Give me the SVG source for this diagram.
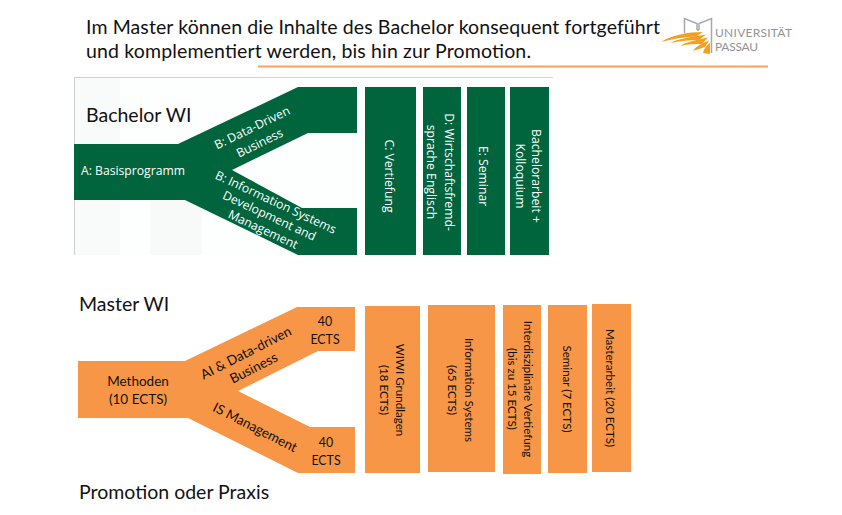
<svg xmlns="http://www.w3.org/2000/svg" width="842" height="515" viewBox="0 0 842 515">
<style>
text{font-family:Lato,"Liberation Sans",sans-serif}
.h{font-size:19.5px;fill:#111}
.g{fill:#00643C}
.o{fill:#F79646}
.tg{fill:#fff;font-family:"Open Sans","Liberation Sans",sans-serif;font-size:12.2px;text-anchor:middle}
.to{fill:#111;font-size:13.5px;text-anchor:middle}
.tc{fill:#111;font-size:12.4px;text-anchor:middle}
.ts{fill:#111;font-size:11.6px;text-anchor:middle}
.lg{fill:#8f9496;font-size:12px}
.sw{fill:#F2A01E}
</style>
<rect width="842" height="515" fill="#fff"/>
<g id="title">
<text class="h" x="86" y="34" textLength="574">Im Master können die Inhalte des Bachelor konsequent fortgeführt</text>
<text class="h" x="86" y="58" textLength="445">und komplementiert werden, bis hin zur Promotion.</text>
<path d="M258 66.500H768" stroke="#F7A25C" stroke-width="2" fill="none"/>
</g>
<g id="logo">
<path d="M684.500 33V18.500L697 23.500V30M711.500 53V18.500L699 23.500V30M697 30H699" fill="none" stroke="#a5a8aa" stroke-width="1.500"/>
<path class="sw" d="M661 42C672 35 688 32 703 32L696 36.500C684 37 672 39 661 42Z"/>
<path class="sw" d="M670 43C678 39 690 37 706 34.500L699 40C690 40 680 41 670 43Z"/>
<path class="sw" d="M680 46C686 42 696 40 708 37.500L702 44C695 44 688 44 680 46Z"/>
<path class="sw" d="M693 51C696 46 703 43 709 40.500L705 47C702 48 698 49 693 51Z"/>
<path class="sw" d="M703 53C704 48 707 45 710 43V54Z"/>
<text class="lg" x="715" y="37" textLength="77">UNIVERSITÄT</text>
<text class="lg" x="715" y="51" textLength="43">PASSAU</text>
</g>
<g id="bachelor-bg">
<rect x="74" y="77" width="479" height="178" fill="#FDFEFE"/>
<rect x="75" y="78" width="45" height="177" fill="#F9FBFA"/>
<rect x="150" y="200" width="52" height="55" fill="#F8FAF9"/>
<path d="M74 77.500H553M74.500 77V255" stroke="#cfd2d1" fill="none"/>
<text class="h" x="86" y="122">Bachelor WI</text>
</g>
<g id="bachelor-y">
<path class="g" d="M74 144H178L298 87H357V133H308L232 170 302 208H357V255H298L185 200H74Z"/>
<text class="tg" x="133" y="175">A: Basisprogramm</text>
<text class="tg" transform="translate(254 131.500) rotate(-26)"><tspan x="0" y="0">B: Data-Driven</tspan><tspan x="0" y="17">Business</tspan></text>
<text class="tg" transform="translate(274 206) rotate(25)"><tspan x="0" y="0">B: Information Systems</tspan><tspan x="0" y="15">Development and</tspan><tspan x="0" y="30">Management</tspan></text>
</g>
<g id="bachelor-c"><rect class="g" x="365" y="87" width="51" height="168"/><text class="tg" transform="translate(385 176) rotate(90)">C: Vertiefung</text></g>
<g id="bachelor-d"><rect class="g" x="423" y="87" width="38" height="168"/><text class="tg" transform="translate(436 172) rotate(90)"><tspan x="0" y="-9">D: Wirtschaftsfremd-</tspan><tspan x="0" y="9">sprache Englisch</tspan></text></g>
<g id="bachelor-e"><rect class="g" x="467" y="87" width="38" height="168"/><text class="tg" transform="translate(479 176) rotate(90)">E: Seminar</text></g>
<g id="bachelor-f"><rect class="g" x="510" y="87" width="39" height="168"/><text class="tg" transform="translate(524 176) rotate(90)"><tspan x="0" y="-8">Bachelorarbeit +</tspan><tspan x="0" y="8">Kolloquium</tspan></text></g>
<g id="master-label"><text class="h" x="79" y="311">Master WI</text></g>
<g id="master-y">
<path class="o" d="M78 361H185L297 307H355V351H318L238 391 310 427H355V473H298L188 418H78Z"/>
<text class="to" x="138" y="386">Methoden</text>
<text class="to" x="138" y="404">(10 ECTS)</text>
<text class="to" transform="translate(248 357) rotate(-27)"><tspan x="0" y="0">AI &amp; Data-driven</tspan><tspan x="0" y="17">Business</tspan></text>
<text class="to" transform="translate(253 431.500) rotate(27)">IS Management</text>
<text class="tc" x="325" y="326">40</text><text class="tc" x="325" y="344">ECTS</text>
<text class="tc" x="326" y="447">40</text><text class="tc" x="326" y="465">ECTS</text>
</g>
<g id="master-1"><rect class="o" x="365" y="306" width="55" height="167"/><text class="ts" transform="translate(388 390) rotate(90)"><tspan x="0" y="-8">WIWI Grundlagen</tspan><tspan x="0" y="8">(18 ECTS)</tspan></text></g>
<g id="master-2"><rect class="o" x="428" y="305" width="67" height="167"/><text class="ts" transform="translate(456.500 390) rotate(90)"><tspan x="0" y="-8.500">Information Systems</tspan><tspan x="0" y="8.500">(65 ECTS)</tspan></text></g>
<g id="master-3"><rect class="o" x="503" y="305" width="38" height="169"/><text class="ts" transform="translate(516 389) rotate(90)"><tspan x="0" y="-8">Interdisziplinäre Vertiefung</tspan><tspan x="0" y="8">(bis zu 15 ECTS)</tspan></text></g>
<g id="master-4"><rect class="o" x="548" y="305" width="39" height="168"/><text class="ts" transform="translate(563 389) rotate(90)">Seminar (7 ECTS)</text></g>
<g id="master-5"><rect class="o" x="592" y="304" width="39" height="168"/><text class="ts" transform="translate(606 388) rotate(90)">Masterarbeit (20 ECTS)</text></g>
<g id="promotion-label"><text class="h" x="79" y="499">Promotion oder Praxis</text></g>
</svg>
